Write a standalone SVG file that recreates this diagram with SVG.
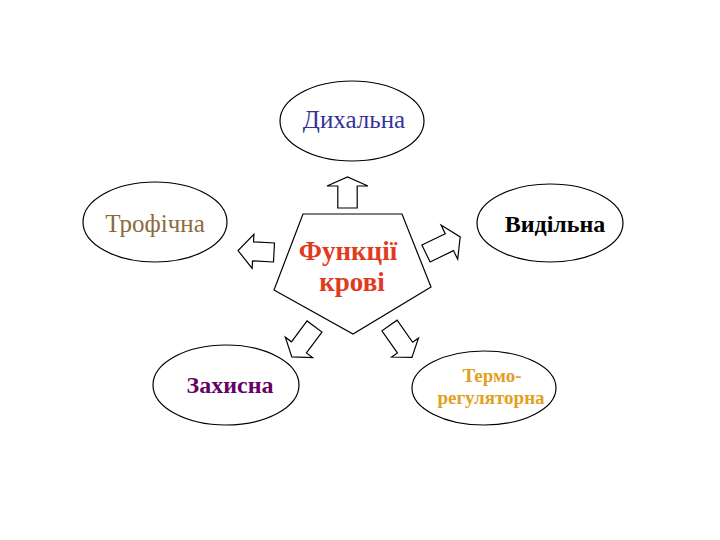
<svg xmlns="http://www.w3.org/2000/svg" width="720" height="540" viewBox="0 0 720 540">
<style>
.node{fill:#ffffff;stroke:#000000;stroke-width:1.2}
.arr{fill:#ffffff;stroke:#000000;stroke-width:1.2;stroke-linejoin:miter}
.t{font-family:"Liberation Serif","Times New Roman",serif;text-anchor:middle}
</style>
<rect width="720" height="540" fill="#ffffff"/>
<g id="center">
<polygon class="node" points="303,214 402,214 431,287 353,334 274,290"/>
<text class="t" x="348" y="260" font-size="27" font-weight="bold" fill="#e23a1e">Функції</text>
<text class="t" x="352" y="291" font-size="27" font-weight="bold" fill="#e23a1e">крові</text>
</g>
<g id="connectors">
<polygon class="arr" points="0,-9.7 22,-9.7 22,-20.5 31,0 22,20.5 22,9.7 0,9.7" transform="translate(347.5,208) rotate(-90)"/>
<polygon class="arr" points="0,-9.5 21,-9.5 21,-17 36,0 21,17 21,9.5 0,9.5" transform="translate(274,252.5) rotate(183)"/>
<polygon class="arr" points="0,-9.4 26,-9.4 26,-19 38,0 26,19 26,9.4 0,9.4" transform="translate(426,253.5) rotate(-25.9)"/>
<polygon class="arr" points="0,-9.3 26,-9.3 26,-17 38,0 26,17 26,9.3 0,9.3" transform="translate(314.5,326.5) rotate(126.7)"/>
<polygon class="arr" points="0,-9.3 27,-9.3 27,-16.4 39,0 27,16.4 27,9.3 0,9.3" transform="translate(389.5,325.5) rotate(54.9)"/>
</g>
<g id="dykhalna">
<ellipse class="node" cx="352" cy="121" rx="72" ry="40"/>
<text class="t" x="354" y="128" font-size="25" fill="#333399">Дихальна</text>
</g>
<g id="trofichna">
<ellipse class="node" cx="155" cy="222" rx="72" ry="40"/>
<text class="t" x="155" y="232" font-size="25" fill="#8b6b3d">Трофічна</text>
</g>
<g id="vydilna">
<ellipse class="node" cx="550" cy="223" rx="73" ry="39"/>
<text class="t" x="555" y="232" font-size="24" font-weight="bold" fill="#000000">Видільна</text>
</g>
<g id="zakhysna">
<ellipse class="node" cx="226" cy="385" rx="73" ry="40"/>
<text class="t" x="230" y="393" font-size="24" font-weight="bold" fill="#660066">Захисна</text>
</g>
<g id="termo">
<ellipse class="node" cx="484" cy="388" rx="72" ry="37"/>
<text class="t" x="492" y="382" font-size="19" font-weight="bold" fill="#e0a020">Термо-</text>
<text class="t" x="491" y="404" font-size="19" font-weight="bold" fill="#e0a020">регуляторна</text>
</g>
</svg>
